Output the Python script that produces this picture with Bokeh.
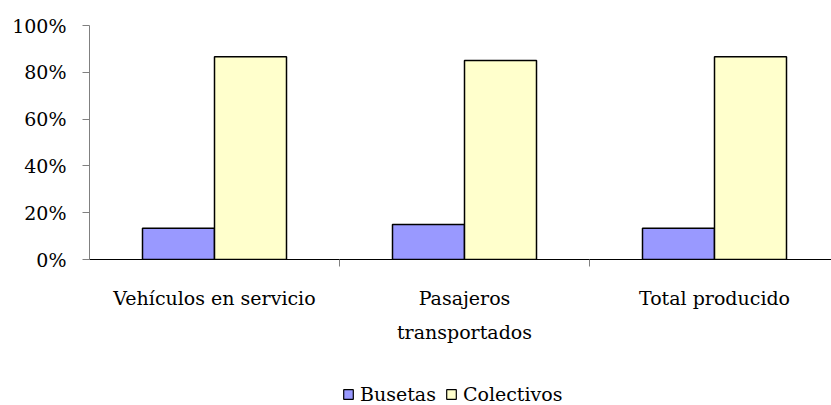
from bokeh.plotting import figure
from bokeh.layouts import column
from bokeh.models import ColumnDataSource, FixedTicker, Legend, LegendItem, PrintfTickFormatter
from bokeh.transform import dodge
from bokeh.embed import file_html
from bokeh.resources import INLINE

categories = ["Vehículos en servicio", "Pasajeros\ntransportados", "Total producido"]
busetas = [13.4, 15.0, 13.4]
colectivos = [86.6, 85.0, 86.6]
y_ticks = [0, 20, 40, 60, 80, 100]
series_names = ["Busetas", "Colectivos"]
series_fields = ["busetas", "colectivos"]
series_colors = ["#9999FF", "#FFFFCC"]

xpos = [i + 0.5 for i in range(len(categories))]
src = ColumnDataSource(dict(x=xpos, busetas=busetas, colectivos=colectivos))

FONT = "DejaVu Serif"
FS = "19px"
p = figure(width=831, height=375, output_backend="svg", toolbar_location=None,
           x_range=(0, 2.968), y_range=(0, 100),
           min_border_left=89, min_border_right=0, min_border_top=25, min_border_bottom=116)
p.outline_line_color = None
p.grid.visible = False

w = 0.288
offsets = [-w / 2, w / 2]
for f, c, o in zip(series_fields, series_colors, offsets):
    p.vbar(x=dodge("x", o, range=p.x_range), top=f, width=w, source=src,
           fill_color=c, line_color="black", line_width=1.5)

# y axis
p.yaxis.ticker = FixedTicker(ticks=y_ticks, minor_ticks=[])
p.yaxis.formatter = PrintfTickFormatter(format="%d%%")
p.yaxis.axis_line_color = "#808080"
p.yaxis.major_tick_line_color = "#808080"
p.yaxis.major_tick_in = 0
p.yaxis.major_tick_out = 7
p.yaxis.minor_tick_line_color = None
p.yaxis.major_label_text_font = FONT
p.yaxis.major_label_text_font_size = FS
p.yaxis.major_label_text_color = "black"
p.yaxis.major_label_standoff = 16

# x axis
p.xaxis.ticker = FixedTicker(ticks=xpos, minor_ticks=[1, 2])
p.xaxis.major_label_overrides = {xp: c for xp, c in zip(xpos, categories)}
p.xaxis.axis_line_color = "black"
p.xaxis.major_tick_out = 0
p.xaxis.major_tick_in = 0
p.xaxis.minor_tick_in = 0
p.xaxis.minor_tick_out = 7
p.xaxis.minor_tick_line_color = "#808080"
p.xaxis.major_label_text_font = FONT
p.xaxis.major_label_text_font_size = FS
p.xaxis.major_label_text_color = "black"
p.xaxis.major_label_text_line_height = 1.55
p.xaxis.major_label_standoff = 20

# legend in a strip below the chart (its bars lie outside the strip's view)
lg = figure(width=831, height=30, output_backend="svg", toolbar_location=None,
            x_range=p.x_range, y_range=(1000, 1001),
            min_border_left=89, min_border_right=0, min_border_top=0, min_border_bottom=0)
lg.axis.visible = False
lg.grid.visible = False
lg.outline_line_color = None
rs = [lg.vbar(x=dodge("x", o, range=lg.x_range), top=f, width=w, source=src,
              fill_color=c, line_color="black", line_width=1.2)
      for f, c, o in zip(series_fields, series_colors, offsets)]
legend = Legend(items=[LegendItem(label=n, renderers=[r]) for n, r in zip(series_names, rs)],
                orientation="horizontal", location=(253, 0),
                label_text_font=FONT, label_text_font_size=FS, label_text_color="black",
                glyph_width=12, glyph_height=12, spacing=9, label_standoff=6,
                border_line_color=None, background_fill_alpha=0,
                padding=0, margin=0)
lg.add_layout(legend, "center")

layout = column(p, lg, spacing=0)
open("out.html", "w").write(file_html(layout, INLINE))
